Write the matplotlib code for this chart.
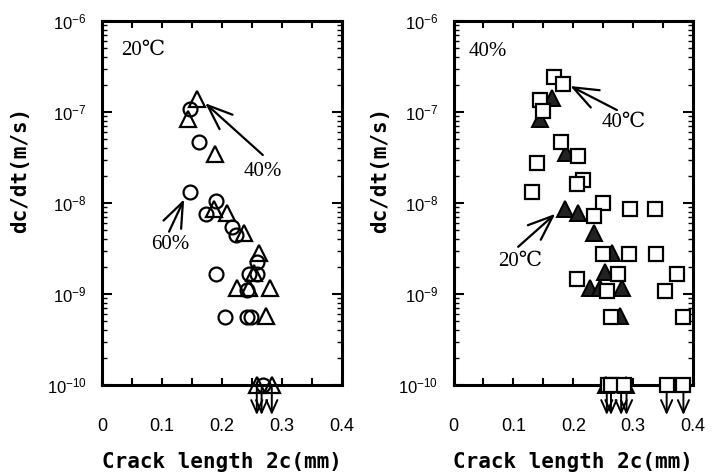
import matplotlib
matplotlib.use("Agg")
import matplotlib.pyplot as plt
from matplotlib.ticker import FixedLocator, LogLocator, NullFormatter

plt.rcParams['mathtext.fontset'] = 'custom'
plt.rcParams['mathtext.rm'] = 'Liberation Sans'
plt.rcParams['mathtext.it'] = 'Liberation Sans:italic'
plt.rcParams['mathtext.bf'] = 'Liberation Sans:bold'

# ---------------- data ----------------
# Left panel (20 C): 60% RH circles, 40% RH triangles
left_circ_x = [0.147, 0.161, 0.146, 0.190, 0.173, 0.216, 0.223, 0.258, 0.190, 0.2455,
               0.258, 0.241, 0.205, 0.241, 0.248, 0.269]
left_circ_y = [1.07e-7, 4.7e-8, 1.33e-8, 1.06e-8, 7.5e-9, 5.5e-9, 4.5e-9, 2.27e-9, 1.66e-9, 1.66e-9,
               1.66e-9, 1.1e-9, 5.6e-10, 5.6e-10, 5.6e-10, 1e-10]
left_tri_x = [0.159, 0.144, 0.189, 0.186, 0.208, 0.236, 0.262, 0.253, 0.2245, 0.2455,
              0.280, 0.274, 0.259, 0.284]
left_tri_y = [1.38e-7, 8.3e-8, 3.46e-8, 8.7e-9, 7.7e-9, 4.7e-9, 2.85e-9, 1.7e-9, 1.15e-9, 1.15e-9,
              1.15e-9, 5.7e-10, 1e-10, 1e-10]
left_arrow_x = [0.258, 0.266, 0.283]

# Right panel (40% RH): 40 C squares, 20 C filled triangles
right_sq_x = [0.1686, 0.1826, 0.1446, 0.149, 0.179, 0.2087, 0.140, 0.217, 0.207, 0.131,
              0.249, 0.295, 0.336, 0.234, 0.2505, 0.2935, 0.338, 0.2746, 0.206, 0.374,
              0.256, 0.3525, 0.263, 0.3826, 0.258, 0.263, 0.285, 0.356, 0.384]
right_sq_y = [2.4e-7, 2.03e-7, 1.36e-7, 1.03e-7, 4.65e-8, 3.25e-8, 2.73e-8, 1.79e-8, 1.62e-8, 1.33e-8,
              1.0e-8, 8.7e-9, 8.7e-9, 7.2e-9, 2.75e-9, 2.75e-9, 2.75e-9, 1.64e-9, 1.46e-9, 1.65e-9,
              1.08e-9, 1.08e-9, 5.6e-10, 5.6e-10, 1e-10, 1e-10, 1e-10, 1e-10, 1e-10]
right_tri_x = [0.164, 0.1446, 0.188, 0.1865, 0.2087, 0.235, 0.2645, 0.2533, 0.228, 0.244,
               0.281, 0.278, 0.255, 0.288]
right_tri_y = [1.41e-7, 8.3e-8, 3.57e-8, 8.7e-9, 7.7e-9, 4.65e-9, 2.85e-9, 1.76e-9, 1.16e-9, 1.16e-9,
               1.16e-9, 5.75e-10, 1e-10, 1e-10]
right_arrow_x = [0.256, 0.263, 0.280, 0.289, 0.356, 0.384]

x_ticks = [0, 0.1, 0.2, 0.3, 0.4]
x_tick_labels = ['0', '0.1', '0.2', '0.3', '0.4']
y_ticks = [1e-10, 1e-9, 1e-8, 1e-7, 1e-6]
y_tick_labels = ['10$^{-10}$', '10$^{-9}$', '10$^{-8}$', '10$^{-7}$', '10$^{-6}$']

xlabel = 'Crack length 2c(mm)'
ylabel = 'dc/dt(m/s)'

SERIF = ['Liberation Serif', 'DejaVu Serif']
MONO = ['DejaVu Sans Mono']

fig = plt.figure(figsize=(7.24, 4.73), dpi=100)
ax1 = fig.add_axes([102/724, 88/473, 240/724, 364/473])
ax2 = fig.add_axes([453.5/724, 88/473, 239.5/724, 364/473])


def style(ax):
    ax.set_xscale('linear')
    ax.set_yscale('log')
    ax.set_xlim(0, 0.4)
    ax.set_ylim(1e-10, 1e-6)
    for s in ax.spines.values():
        s.set_linewidth(2.2)
    ax.xaxis.set_major_locator(FixedLocator(x_ticks))
    ax.set_xticklabels(x_tick_labels, family='Liberation Sans', fontsize=13)
    ax.xaxis.set_minor_locator(FixedLocator([0.05, 0.15, 0.25, 0.35]))
    ax.yaxis.set_major_locator(FixedLocator(y_ticks))
    ax.set_yticklabels(y_tick_labels, family='Liberation Sans', fontsize=12)
    ax.yaxis.set_minor_locator(LogLocator(base=10, subs=range(2, 10), numticks=20))
    ax.yaxis.set_minor_formatter(NullFormatter())
    ax.tick_params(axis='x', which='both', direction='in', top=True, bottom=True,
                   length=5, width=1.5, pad=24)
    ax.tick_params(axis='y', which='major', direction='in', left=True, right=True,
                   length=7, width=1.5, pad=11)
    ax.tick_params(axis='y', which='minor', direction='in', left=True, right=True,
                   length=3.5, width=1.0)
    ax.set_xlabel(xlabel, family=MONO, fontweight='bold', fontsize=15)
    ax.set_ylabel(ylabel, family=MONO, fontweight='bold', fontsize=15)
    ax.xaxis.set_label_coords(0.5, -0.185)


style(ax1)
style(ax2)
ax1.yaxis.set_label_coords(-0.30, 0.59)
ax2.yaxis.set_label_coords(-0.265, 0.59)

arrow_kw = dict(arrowstyle='->, head_length=0.45, head_width=0.2', lw=1.4, color='black',
                mutation_scale=20)

# ---- left panel ----
ax1.plot(left_circ_x, left_circ_y, linestyle='none', marker='o', ms=10, mfc='none',
         mec='black', mew=1.6, clip_on=False, zorder=3)
ax1.plot(left_tri_x, left_tri_y, linestyle='none', marker='^', ms=11, mfc='none',
         mec='black', mew=1.6, clip_on=False, zorder=3)
for xv in left_arrow_x:
    ax1.annotate('', xy=(xv, -0.09), xycoords=('data', 'axes fraction'),
                 xytext=(xv, 0.0), textcoords=('data', 'axes fraction'),
                 arrowprops=arrow_kw, annotation_clip=False)

ax1.text(0.078, 0.918, '20℃', transform=ax1.transAxes, family=SERIF, fontsize=15,
         ha='left', va='center')
ax1.annotate('', xy=(0.172, 1.25e-7), xytext=(0.268, 3.37e-8),
             arrowprops=dict(arrowstyle='->, head_length=0.9, head_width=0.35', lw=1.6,
                             color='black', mutation_scale=20, shrinkA=0, shrinkB=0))
ax1.text(0.268, 2.2e-8, '40%', family=SERIF, fontsize=15, ha='center', va='center')
ax1.annotate('', xy=(0.137, 1.1e-8), xytext=(0.1117, 4.84e-9),
             arrowprops=dict(arrowstyle='->, head_length=0.9, head_width=0.35', lw=1.6,
                             color='black', mutation_scale=20, shrinkA=0, shrinkB=0))
ax1.text(0.113, 3.5e-9, '60%', family=SERIF, fontsize=15, ha='center', va='center')

# ---- right panel ----
ax2.plot(right_tri_x, right_tri_y, linestyle='none', marker='^', ms=11, mfc='#222222',
         mec='black', mew=1.4, clip_on=False, zorder=3)
ax2.plot(right_sq_x, right_sq_y, linestyle='none', marker='s', ms=10, mfc='white',
         mec='black', mew=1.6, clip_on=False, zorder=4)
for xv in right_arrow_x:
    ax2.annotate('', xy=(xv, -0.09), xycoords=('data', 'axes fraction'),
                 xytext=(xv, 0.0), textcoords=('data', 'axes fraction'),
                 arrowprops=arrow_kw, annotation_clip=False)

ax2.text(0.062, 0.917, '40%', transform=ax2.transAxes, family=SERIF, fontsize=15,
         ha='left', va='center')
ax2.annotate('', xy=(0.195, 1.93e-7), xytext=(0.273, 1.05e-7),
             arrowprops=dict(arrowstyle='->, head_length=0.9, head_width=0.35', lw=1.6,
                             color='black', mutation_scale=20, shrinkA=0, shrinkB=0))
ax2.text(0.284, 7.6e-8, '40℃', family=SERIF, fontsize=15, ha='center', va='center')
ax2.annotate('', xy=(0.17, 7.6e-9), xytext=(0.108, 3.3e-9),
             arrowprops=dict(arrowstyle='->, head_length=0.9, head_width=0.35', lw=1.6,
                             color='black', mutation_scale=20, shrinkA=0, shrinkB=0))
ax2.text(0.111, 2.26e-9, '20℃', family=SERIF, fontsize=15, ha='center', va='center')

fig.savefig('out.png', dpi=100)
